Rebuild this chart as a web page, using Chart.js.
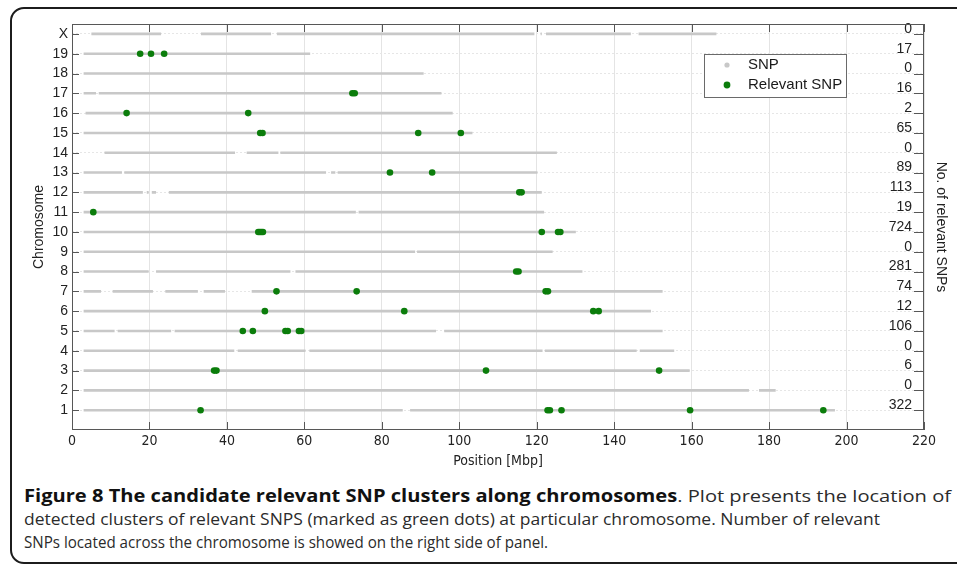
<!DOCTYPE html>
<html>
<head>
<meta charset="utf-8">
<script src="https://cdn.jsdelivr.net/npm/chart.js@4.4.1/dist/chart.umd.min.js"></script>
<style>
  html, body { margin: 0; padding: 0; background: #fff; }
  body { width: 957px; height: 564px; position: relative; overflow: hidden; }
  #panel { position: absolute; left: 10px; top: 7px; width: 990px; height: 553px; border: 2px solid #1c1c1c; border-radius: 14px; }
  #wrap { position: absolute; left: 0; top: 0; width: 957px; height: 470px; }
  #caption { position: absolute; left: 24px; top: 484px; font-family: 'Open Sans', sans-serif; font-size: 17px; line-height: 23px; color: #2b2b2b; }
  #caption div { white-space: nowrap; }
  #caption span { display: inline-block; transform-origin: 0 0; }
  #caption b { color: #111; }
</style>
</head>
<body>
<div id="panel"></div>
<div id="wrap"><canvas id="snpChart"></canvas></div>
<div id="caption">
  <div><span><b>Figure 8 The candidate relevant SNP clusters along chromosomes</b>. Plot presents the location of</span></div>
  <div><span>detected clusters of relevant SNPS (marked as green dots) at particular chromosome. Number of relevant</span></div>
  <div><span>SNPs located across the chromosome is showed on the right side of panel.</span></div>
</div>
<script>
// rows from bottom (1) to top (X)
const chromosomes = ['1','2','3','4','5','6','7','8','9','10','11','12','13','14','15','16','17','18','19','X'];
const xTickValues = [0, 20, 40, 60, 80, 100, 120, 140, 160, 180, 200, 220];
const relevantCounts = [322, 0, 6, 0, 106, 12, 74, 281, 0, 724, 19, 113, 89, 0, 65, 2, 16, 0, 17, 0];

// covered stretches of each chromosome [start, end] in Mbp
const snpSegments = [
  [[3, 85.4], [87.3, 197.0]],
  [[3, 174.8], [177.4, 181.7]],
  [[3, 159.5]],
  [[3, 41.9], [42.8, 60.3], [61.3, 121.5], [122.1, 145.8], [146.6, 155.5]],
  [[3, 11.0], [11.8, 25.6], [26.5, 94.0], [96.1, 152.5]],
  [[3, 149.5]],
  [[3, 7.5], [10.5, 20.9], [24.1, 32.5], [34.0, 39.5], [46.4, 152.5]],
  [[3, 19.8], [21.7, 56.4], [57.7, 131.8]],
  [[3, 88.6], [89.1, 124.1]],
  [[3, 130.1]],
  [[3, 73.3], [74.0, 121.9]],
  [[3, 18.3], [19.3, 19.8], [20.6, 21.7], [25.0, 121.3]],
  [[3, 12.9], [13.5, 65.6], [66.9, 68.0], [68.6, 120.2]],
  [[8.4, 42.1], [45.1, 53.3], [53.8, 125.2]],
  [[3, 103.4]],
  [[3.5, 98.3]],
  [[3, 6.2], [6.9, 95.4]],
  [[3, 90.8]],
  [[3, 61.5]],
  [[5, 23.0], [33.3, 51.4], [52.9, 119.4], [121.0, 121.3], [122.4, 144.3], [146.3, 166.4]]
];

// relevant SNP cluster positions (Mbp) per chromosome
const relevantPositions = [
  [33.2, 122.8, 123.4, 126.4, 159.6, 194.0],
  [],
  [36.7, 37.3, 106.9, 151.6],
  [],
  [44.1, 46.7, 55.1, 55.7, 58.6, 59.2],
  [49.8, 85.8, 134.6, 136.0],
  [52.8, 73.5, 122.3, 122.9],
  [114.7, 115.3],
  [],
  [48.1, 48.5, 48.9, 49.3, 121.3, 125.5, 126.1],
  [5.5],
  [115.5, 116.1],
  [82.1, 93.0],
  [],
  [48.6, 49.2, 89.4, 100.4],
  [14.1, 45.5],
  [72.4, 73.0],
  [],
  [17.6, 20.4, 23.8],
  []
];

const snpPoints = [];
snpSegments.forEach((segs, i) => {
  segs.forEach(([a, b]) => {
    snpPoints.push({x: a, y: i + 1}, {x: b, y: i + 1}, {x: b, y: null});
  });
});
const relevantPoints = [];
relevantPositions.forEach((ps, i) => ps.forEach(p => relevantPoints.push({x: p, y: i + 1})));

const SANS = "'Liberation Sans', Arial, sans-serif";
const NARROW = "'Liberation Sans Narrow', 'DejaVu Sans Condensed', 'Liberation Sans', sans-serif";
const rowTicks = s => { s.ticks = chromosomes.map((c, i) => ({value: i + 1})); };

const framePlugin = {
  id: 'frame',
  afterDatasetsDraw(chart) {
    const {ctx, chartArea: a, scales: {x, y}} = chart;
    ctx.save();
    ctx.strokeStyle = '#575757';
    ctx.lineWidth = 1;
    ctx.strokeRect(a.left + 0.5, a.top + 0.5, a.right - a.left - 1, a.bottom - a.top - 1);
    ctx.beginPath();
    x.ticks.forEach(t => {
      const px = Math.round(x.getPixelForValue(t.value)) + 0.5;
      ctx.moveTo(px, a.bottom); ctx.lineTo(px, a.bottom - 8);
      ctx.moveTo(px, a.top); ctx.lineTo(px, a.top + 8);
    });
    y.ticks.forEach(t => {
      const py = Math.round(y.getPixelForValue(t.value)) + 0.5;
      ctx.moveTo(a.left, py); ctx.lineTo(a.left + 7, py);
      ctx.moveTo(a.right, py); ctx.lineTo(a.right - 10, py);
    });
    ctx.stroke();

    // legend box
    const ds = chart.data.datasets;
    const lx = 704, ly = 54, lw = 142, lh = 43;
    ctx.fillStyle = '#fff';
    ctx.fillRect(lx, ly, lw, lh);
    ctx.strokeStyle = '#6a6a6a';
    ctx.strokeRect(lx + 0.5, ly + 0.5, lw, lh);
    ctx.font = '15px ' + SANS;
    ctx.textBaseline = 'middle';
    ctx.textAlign = 'left';
    [[ds[0].legendColor, 2.6, 11], [ds[1].backgroundColor, 3.4, 31]].forEach(([c, r, dy], i) => {
      ctx.fillStyle = c;
      ctx.beginPath();
      ctx.arc(lx + 23, ly + dy, r, 0, Math.PI * 2);
      ctx.fill();
      ctx.fillStyle = '#1a1a1a';
      ctx.fillText(ds[i].label, lx + 44, ly + dy);
    });
    ctx.restore();
  }
};

new Chart(document.getElementById('snpChart'), {
  type: 'scatter',
  data: {
    datasets: [
      {
        label: 'SNP',
        data: snpPoints,
        order: 2,
        showLine: true,
        spanGaps: false,
        borderColor: '#c8c8c8',
        legendColor: '#c8c8c8',
        borderWidth: 2.6,
        borderCapStyle: 'butt',
        pointRadius: 0,
        pointHoverRadius: 0
      },
      {
        label: 'Relevant SNP',
        data: relevantPoints,
        order: 1,
        backgroundColor: '#0b7d0b',
        borderColor: '#0b7d0b',
        borderWidth: 0,
        pointRadius: 3.3
      }
    ]
  },
  options: {
    responsive: true,
    maintainAspectRatio: false,
    animation: false,
    layout: { padding: { top: 24, left: 0, right: 0, bottom: 0 } },
    plugins: {
      legend: { display: false },
      tooltip: { enabled: false }
    },
    scales: {
      x: {
        type: 'linear',
        min: 0,
        max: 220,
        afterBuildTicks: s => { s.ticks = xTickValues.map(v => ({value: v})); },
        afterFit: s => { s.height = 40; },
        grid: { color: '#e4e4e4', drawTicks: false },
        border: { display: false },
        ticks: { padding: 3, autoSkip: false, maxRotation: 0, color: '#222', font: { family: NARROW, size: 14 } },
        title: { display: true, text: 'Position [Mbp]', color: '#222', font: { family: NARROW, size: 14 }, padding: { top: 3, bottom: 0 } }
      },
      y: {
        type: 'linear',
        position: 'left',
        min: 0,
        max: 20.5,
        afterBuildTicks: rowTicks,
        afterFit: s => { s.width = 72; },
        grid: { color: '#e6e6e6', drawTicks: false },
        border: { display: false, dash: [2, 2] },
        ticks: { padding: 4, autoSkip: false, color: '#222', font: { family: SANS, size: 14 }, callback: v => chromosomes[v - 1] },
        title: { display: true, text: 'Chromosome', color: '#222', font: { family: SANS, size: 14 }, padding: { top: 31, bottom: 0 } }
      },
      y2: {
        type: 'linear',
        position: 'right',
        min: 0,
        max: 20.5,
        afterBuildTicks: rowTicks,
        afterFit: s => { s.width = 33; },
        grid: { display: false, drawTicks: false },
        border: { display: false },
        ticks: { mirror: true, padding: -12, labelOffset: -5, autoSkip: false, color: '#222', font: { family: SANS, size: 14 }, callback: v => String(relevantCounts[v - 1]) },
        title: { display: true, text: 'No. of relevant SNPs', color: '#222', font: { family: SANS, size: 14 }, padding: { top: 8, bottom: 0 } }
      }
    }
  },
  plugins: [framePlugin]
});

// condense each caption line to the width it has in the original panel
const captionWidths = [927, 856, 524];
document.querySelectorAll('#caption span').forEach((s, i) => {
  const w = s.getBoundingClientRect().width;
  s.style.transform = 'scaleX(' + (captionWidths[i] / w) + ')';
});
</script>
</body>
</html>
